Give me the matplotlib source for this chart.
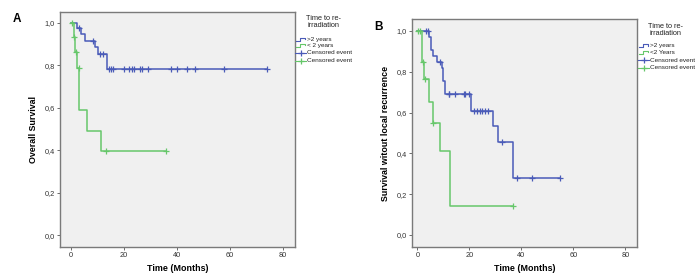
import matplotlib
matplotlib.use("Agg")
import matplotlib.pyplot as plt
import numpy as np
from matplotlib.lines import Line2D

plt.rcParams['font.family'] = ['Liberation Sans', 'DejaVu Sans']

# ---- data ----
# panel A: overall survival
a_gt2_times = [0, 2.3, 3.8, 5.4, 9.2, 10.4, 13.8, 74]
a_gt2_surv = [1.0, 0.974, 0.947, 0.915, 0.884, 0.851, 0.78, 0.78]
a_gt2_cens = [3.1, 8.3, 11.1, 12.1, 14.6, 15.2, 15.8, 20, 22, 23, 24, 26, 27, 29,
              38, 40, 44, 47, 58, 74]

a_lt2_times = [0, 1.2, 1.8, 2.4, 3.3, 6.0, 11.3, 36]
a_lt2_surv = [1.0, 0.934, 0.864, 0.785, 0.589, 0.492, 0.398, 0.398]
a_lt2_cens = [0.4, 1.3, 1.9, 3.0, 13.2, 36]

# panel B: survival without local recurrence
b_gt2_times = [0, 4.5, 5.1, 5.8, 7.6, 9.3, 9.9, 10.5, 20.6, 29.0, 31.0, 36.6, 54.9]
b_gt2_surv = [1.0, 0.97, 0.909, 0.88, 0.849, 0.82, 0.756, 0.693, 0.607, 0.532,
              0.456, 0.277, 0.277]
b_gt2_cens = [3.2, 3.9, 8.8, 12.0, 12.3, 14.6, 17.8, 18.3, 19.8, 21.9, 23.0, 24.1,
              25.0, 26.0, 27.1, 32.5, 38.5, 44.0, 54.9]

b_lt2_times = [0, 1.8, 2.6, 4.3, 5.9, 8.8, 12.4, 36.7]
b_lt2_surv = [1.0, 0.849, 0.763, 0.654, 0.548, 0.411, 0.141, 0.141]
b_lt2_cens = [0.2, 1.0, 2.0, 2.9, 6.1, 36.7]

x_ticks = [0, 20, 40, 60, 80]
y_ticks = [0.0, 0.2, 0.4, 0.6, 0.8, 1.0]
y_tick_labels = ['0,0', '0,2', '0,4', '0,6', '0,8', '1,0']

legend_title = "Time to re-\nirradiation"
a_legend = ['>2 years', '< 2 years', 'Censored event', 'Censored event']
b_legend = ['>2 years', '<2 Years', 'Censored event', 'Censored event']

BLUE = '#4a5bb8'
GREEN = '#66c76a'
BG = '#f0f0f0'
W, H = 700, 276


def surv_at(t, times, surv):
    idx = np.searchsorted(times, t, side='right') - 1
    return np.array(surv)[idx]


def fx(x):
    return x / W


def fy(y):
    return 1 - y / H


fig = plt.figure(figsize=(7, 2.76), dpi=100)
fig.patch.set_facecolor('white')

axA = fig.add_axes([fx(60), fy(247), fx(295) - fx(60), fy(12) - fy(247)])
axB = fig.add_axes([fx(412), fy(247), fx(637) - fx(412), fy(19) - fy(247)])


def style(ax, xlim, ylim, ylabel):
    ax.set_facecolor(BG)
    for s in ax.spines.values():
        s.set_color('#7a7a7a')
        s.set_linewidth(1.0)
    ax.set_xlim(*xlim)
    ax.set_ylim(*ylim)
    ax.set_xticks(x_ticks)
    ax.set_yticks(y_ticks)
    ax.set_yticklabels(y_tick_labels)
    ax.tick_params(direction='out', length=2.5, width=0.6, color='#555555',
                   labelsize=5.3, labelcolor='#333333', pad=1)
    ax.set_xlabel('Time (Months)', fontsize=6.4, fontweight='bold', labelpad=4)
    ax.set_ylabel(ylabel, fontsize=6.4, fontweight='bold', labelpad=5)


def km(ax, times, surv, cens, color):
    ax.step(times, surv, where='post', color=color, lw=1.1)
    ax.plot(cens, surv_at(cens, times, surv), linestyle='none', marker='+',
            ms=3.8, mew=0.9, color=color)


style(axA, (-4, 84.6), (-0.056, 1.05), 'Overall Survival')
km(axA, a_gt2_times, a_gt2_surv, a_gt2_cens, BLUE)
km(axA, a_lt2_times, a_lt2_surv, a_lt2_cens, GREEN)

style(axB, (-2.1, 84.5), (-0.059, 1.059), 'Survival witout local recurrence')
km(axB, b_gt2_times, b_gt2_surv, b_gt2_cens, BLUE)
km(axB, b_lt2_times, b_lt2_surv, b_lt2_cens, GREEN)

fig.text(fx(16.5), fy(19), 'A', fontsize=8.5, fontweight='bold', ha='center', va='center')
fig.text(fx(378.5), fy(26.5), 'B', fontsize=8.5, fontweight='bold', ha='center', va='center')


def legend(x_title, y_title, x_handle, rows, labels):
    fig.text(fx(x_title), fy(y_title), legend_title, fontsize=5.3, ha='center',
             va='center', linespacing=1.1, color='#222222')
    colors = [BLUE, GREEN, BLUE, GREEN]
    for i, (y, lab) in enumerate(zip(rows, labels)):
        c = colors[i]
        if i < 2:
            xs = [x_handle, x_handle + 4, x_handle + 4, x_handle + 9, x_handle + 9]
            ys = [y + 1.5, y + 1.5, y - 1.5, y - 1.5, y]
            fig.add_artist(Line2D([fx(v) for v in xs], [fy(v) for v in ys],
                                  color=c, lw=0.8))
        else:
            fig.add_artist(Line2D([fx(x_handle - 1), fx(x_handle + 10)], [fy(y), fy(y)],
                                  color=c, lw=0.8))
            fig.add_artist(Line2D([fx(x_handle + 4.5)], [fy(y)], marker='+', ms=4,
                                  mew=0.9, color=c))
        fig.text(fx(x_handle + 11), fy(y), lab, fontsize=4.6, ha='left', va='center',
                 color='#222222')


legend(324, 22, 296, [39, 45, 52.8, 60.5], a_legend)
legend(665, 30, 639, [45.5, 52.3, 60, 67.5], b_legend)

fig.savefig('out.png', dpi=100)
